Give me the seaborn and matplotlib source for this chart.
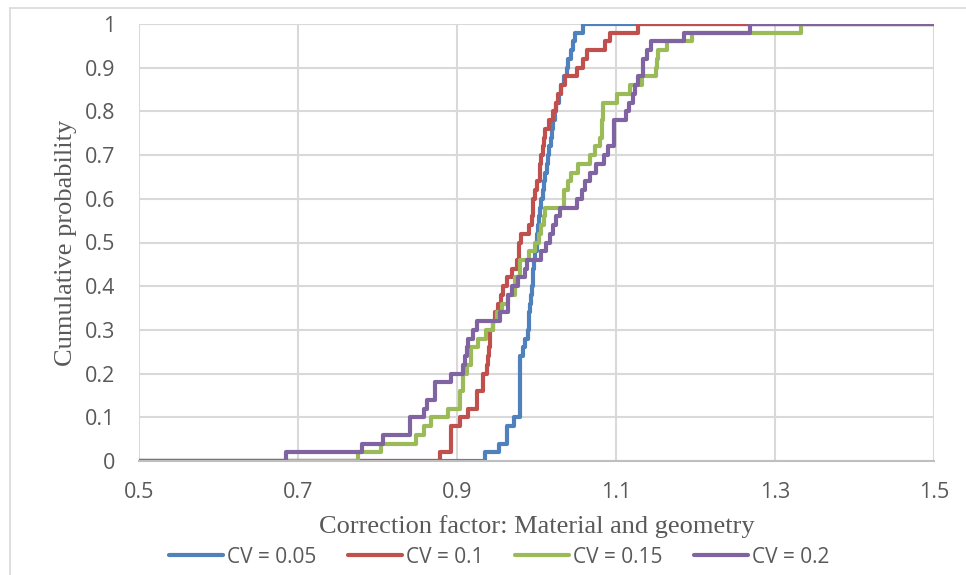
import numpy as np
import pandas as pd
import matplotlib
matplotlib.use('Agg')
import matplotlib.pyplot as plt
from matplotlib.lines import Line2D
import seaborn as sns

# sorted sample values (50 per series, step = 0.02)
cv_005 = [0.935, 0.953, 0.963, 0.963, 0.972, 0.979, 0.979, 0.979, 0.979, 0.979,
          0.979, 0.979, 0.983, 0.986, 0.989, 0.990, 0.991, 0.992, 0.993, 0.994,
          0.995, 0.996, 0.997, 0.998, 1.000, 1.001, 1.002, 1.003, 1.005, 1.006,
          1.008, 1.010, 1.011, 1.013, 1.015, 1.016, 1.018, 1.019, 1.021, 1.023,
          1.025, 1.028, 1.031, 1.035, 1.038, 1.040, 1.043, 1.046, 1.048, 1.058]
cv_010 = [0.879, 0.893, 0.893, 0.893, 0.904, 0.914, 0.925, 0.925, 0.933, 0.933,
          0.938, 0.939, 0.940, 0.941, 0.942, 0.945, 0.948, 0.952, 0.955, 0.958,
          0.963, 0.969, 0.975, 0.978, 0.978, 0.981, 0.990, 0.994, 0.995, 0.996,
          0.998, 1.001, 1.004, 1.005, 1.006, 1.008, 1.009, 1.011, 1.016, 1.021,
          1.024, 1.027, 1.031, 1.036, 1.051, 1.059, 1.064, 1.086, 1.092, 1.128]
cv_015 = [0.776, 0.805, 0.848, 0.858, 0.867, 0.889, 0.904, 0.904, 0.908, 0.908,
          0.912, 0.918, 0.918, 0.927, 0.937, 0.945, 0.950, 0.956, 0.964, 0.973,
          0.973, 0.979, 0.979, 0.990, 0.998, 1.003, 1.006, 1.009, 1.011, 1.034,
          1.034, 1.040, 1.044, 1.052, 1.067, 1.074, 1.080, 1.082, 1.083, 1.084,
          1.084, 1.101, 1.118, 1.133, 1.150, 1.152, 1.153, 1.164, 1.195, 1.333]
cv_020 = [0.685, 0.780, 0.807, 0.841, 0.841, 0.858, 0.862, 0.872, 0.872, 0.893,
          0.908, 0.910, 0.912, 0.914, 0.920, 0.925, 0.954, 0.964, 0.964, 0.969,
          0.977, 0.985, 0.988, 1.006, 1.012, 1.017, 1.021, 1.025, 1.030, 1.051,
          1.057, 1.061, 1.067, 1.075, 1.085, 1.090, 1.097, 1.097, 1.097, 1.113,
          1.116, 1.121, 1.124, 1.128, 1.134, 1.134, 1.139, 1.144, 1.185, 1.268]

labels = ['CV = 0.05', 'CV = 0.1', 'CV = 0.15', 'CV = 0.2']
colors = ['#4F81BD', '#C0504D', '#9BBB59', '#8064A2']
x_min, x_max = 0.5, 1.5

# step table: starts at the axis minimum with 0, ends at the axis maximum with 1
rows = []
for lab, vals in zip(labels, [cv_005, cv_010, cv_015, cv_020]):
    vals = np.sort(vals)
    n = len(vals)
    xs = np.r_[x_min, vals, x_max]
    ys = np.r_[0.0, np.arange(1, n + 1) / n, 1.0]
    rows.append(pd.DataFrame({'x': xs, 'p': ys, 'series': lab}))
df = pd.concat(rows, ignore_index=True)

sns.set_style('white')
plt.rcParams['font.family'] = ['Open Sans', 'DejaVu Sans']

fig = plt.figure(figsize=(9.66, 5.75), dpi=100)
ax = fig.add_axes([139 / 966, 1 - 461 / 575, 795 / 966, 437 / 575])

sns.lineplot(data=df, x='x', y='p', hue='series', palette=colors, sort=False,
             estimator=None, drawstyle='steps-post', linewidth=3.0, ax=ax, legend=False)

ax.set_xlim(x_min, x_max)
ax.set_ylim(0, 1)
ax.set_xticks(np.arange(0.5, 1.51, 0.2))
ax.set_xticklabels(['0.5', '0.7', '0.9', '1.1', '1.3', '1.5'])
ax.set_yticks(np.arange(0, 1.01, 0.1))
ax.set_yticklabels(['0', '0.1', '0.2', '0.3', '0.4', '0.5', '0.6', '0.7', '0.8', '0.9', '1'])
ax.tick_params(axis='both', length=0, labelsize=15.5, colors='#595959')
ax.tick_params(axis='x', pad=15)
ax.tick_params(axis='y', pad=17)
ax.grid(True, color='#d9d9d9', linewidth=1.5)
ax.set_axisbelow(True)
for s in ['top', 'left', 'right']:
    ax.spines[s].set_visible(False)
ax.spines['bottom'].set_color('#bfbfbf')
ax.spines['bottom'].set_linewidth(1.5)

ax.set_xlabel('Correction factor: Material and geometry', family='Liberation Serif',
              fontsize=19, color='#595959', labelpad=9)
ax.set_ylabel('Cumulative probability', family='Liberation Serif',
              fontsize=19, color='#595959', labelpad=6)

handles = [Line2D([0], [0], color=c, lw=3) for c in colors]
ax.legend(handles, labels, loc='center', bbox_to_anchor=(0.453, -0.22), ncol=4,
          frameon=False, fontsize=15, handlelength=2.6, columnspacing=1.5,
          handletextpad=0.2, labelcolor='#595959')

# thin outer chart border (left and top edges visible)
fig.add_artist(Line2D([10 / 966, 10 / 966], [0, 1 - 8 / 575], transform=fig.transFigure,
                      color='#d9d9d9', lw=1.2))
fig.add_artist(Line2D([10 / 966, 1], [1 - 8 / 575, 1 - 8 / 575], transform=fig.transFigure,
                      color='#d9d9d9', lw=1.2))

fig.savefig('out.png', dpi=100)
